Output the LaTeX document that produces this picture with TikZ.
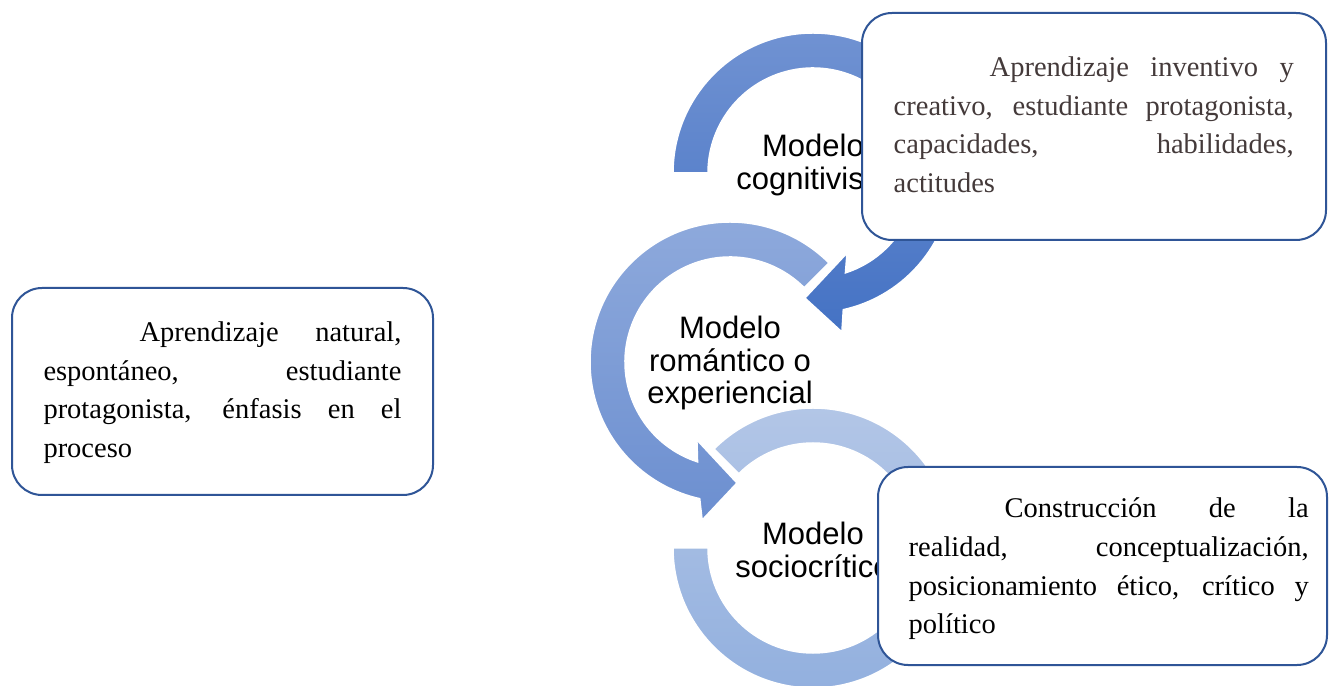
\documentclass[tikz,border=0pt]{standalone}
\usepackage{fontspec}
\setmainfont{Liberation Serif}
\newfontfamily\arialf{Liberation Sans}
\definecolor{c1top}{RGB}{112,146,210}
\definecolor{c1bot}{RGB}{68,114,196}
\definecolor{c2top}{RGB}{143,170,220}
\definecolor{c2bot}{RGB}{108,143,208}
\definecolor{c3top}{RGB}{180,199,231}
\definecolor{c3bot}{RGB}{145,175,222}
\definecolor{boxborder}{RGB}{47,85,151}
\definecolor{txtgray}{RGB}{68,58,58}
\begin{document}
\begin{tikzpicture}[x=1pt,y=1pt,
  ringA/.style={draw=white, line width=1.5pt, top color=c1top, bottom color=c1bot},
  ringB/.style={draw=white, line width=1.5pt, top color=c2top, bottom color=c2bot},
  ringC/.style={draw=white, line width=1.5pt, top color=c3top, bottom color=c3bot},
  lbl/.style={font=\arialf\fontsize{31}{32.5}\selectfont, align=center, inner sep=0pt},
  box/.style={draw=boxborder, line width=2pt, rounded corners=30pt, fill=white, inner sep=0pt},
  para/.style={font=\fontsize{28.5}{38.6}\selectfont, align=justify, text width=400pt, inner sep=0pt, anchor=base west}]
\useasboundingbox (0,0) rectangle (1329,685);
\fill[white] (0,0) rectangle (1329,685);
\coordinate (C1) at (813,512);
\coordinate (C2) at (730,323);
\coordinate (C3) at (813,137);
% circle 3
\draw[ringC] ([shift={(135:140pt)}]C3) arc[start angle=135,end angle=-180,radius=140pt]
  -- ([shift={(180:105pt)}]C3) arc[start angle=-180,end angle=135,radius=105pt] -- cycle;
% circle 2
\draw[ringB] ([shift={(45:140pt)}]C2) arc[start angle=45,end angle=257.5,radius=140pt]
  -- ([shift={(260:160.5pt)}]C2) -- ([shift={(273.3:121.2pt)}]C2)
  -- ([shift={(247:84.7pt)}]C2) -- ([shift={(252:105pt)}]C2)
  arc[start angle=252,end angle=45,radius=105pt] -- cycle;
% circle 1
\draw[ringA] ([shift={(180:140pt)}]C1) arc[start angle=180,end angle=-77.5,radius=140pt]
  -- ([shift={(-79.7:161.6pt)}]C1) -- ([shift={(-93.7:125.3pt)}]C1)
  -- ([shift={(-67:87pt)}]C1) -- ([shift={(-72:105pt)}]C1)
  arc[start angle=-72,end angle=180,radius=105pt] -- cycle;
% labels
\node[lbl] (lab1) at (813,520.25) {Modelo\\cognitivista};
\node[lbl] (lab2) at (730,322) {Modelo\\romántico o\\experiencial};
\node[lbl] (lab3) at (813,135) {Modelo\\sociocrítico};
% boxes
\node[box, minimum width=464pt, minimum height=227pt] (box1) at (1094,558.5) {};
\node[box, minimum width=421pt, minimum height=207pt] (box2) at (222.5,293.5) {};
\node[box, minimum width=449pt, minimum height=198pt] (box3) at (1102.5,119) {};
% texts
\node[para, text=txtgray] (txt1) at (893.5,608.5) {\hspace*{96pt}Aprendizaje inventivo y\linebreak creativo, estudiante protagonista,\linebreak capacidades, habilidades,\linebreak actitudes};
\node[para, text width=358pt] (txt2) at (43.3,343.3) {\hspace*{96pt}Aprendizaje natural,\linebreak espontáneo, estudiante\linebreak protagonista, énfasis en el\linebreak proceso};
\node[para] (txt3) at (908.5,167) {\hspace*{96pt}Construcción de la\linebreak realidad, conceptualización,\linebreak posicionamiento ético, crítico y\linebreak político};
\end{tikzpicture}
\end{document}
